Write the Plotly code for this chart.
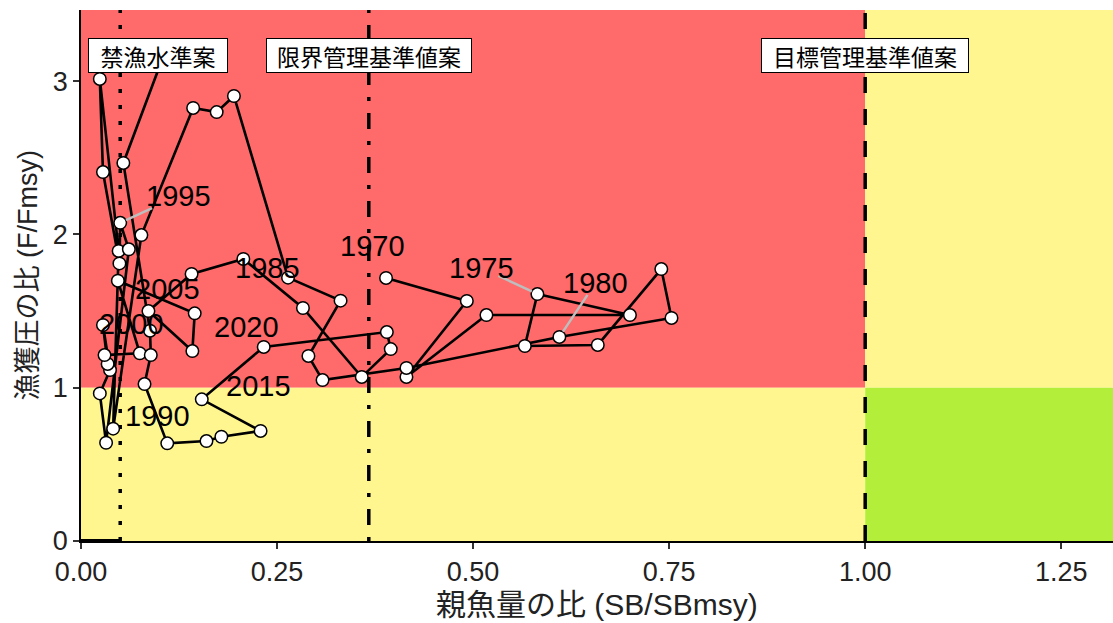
import plotly.graph_objects as go

# ---- data ----
years = list(range(1970, 2025))
sb_ratio = [0.389, 0.492, 0.415, 0.517, 0.700, 0.582, 0.566, 0.659, 0.740, 0.753,
            0.610, 0.415, 0.308, 0.290, 0.331, 0.264, 0.195, 0.173, 0.143, 0.077,
            0.041, 0.048, 0.024, 0.028, 0.049, 0.050, 0.061, 0.032, 0.024, 0.037,
            0.028, 0.034, 0.030, 0.075, 0.047, 0.145, 0.142, 0.086, 0.141, 0.207,
            0.283, 0.358, 0.395, 0.390, 0.233, 0.154, 0.229, 0.179, 0.160, 0.110,
            0.081, 0.089, 0.088, 0.054, 0.107]
f_ratio = [1.716, 1.566, 1.070, 1.474, 1.474, 1.611, 1.272, 1.279, 1.774, 1.455,
           1.331, 1.129, 1.050, 1.207, 1.568, 1.718, 2.903, 2.798, 2.825, 1.996,
           0.733, 1.892, 3.014, 2.407, 1.811, 2.076, 1.903, 0.641, 0.963, 1.115,
           1.409, 1.155, 1.213, 1.224, 1.698, 1.485, 1.239, 1.500, 1.742, 1.840,
           1.520, 1.070, 1.252, 1.363, 1.266, 0.924, 0.718, 0.680, 0.652, 0.637,
           1.024, 1.213, 1.372, 2.466, 3.190]

label_years = [1970, 1975, 1980, 1985, 1990, 1995, 2000, 2005, 2015, 2020]
label_x = [0.372, 0.511, 0.656, 0.238, 0.097, 0.124, 0.064, 0.110, 0.226, 0.211]
label_y = [1.924, 1.781, 1.683, 1.781, 0.815, 2.250, 1.416, 1.644, 1.011, 1.396]
segment_years = [1975, 1980, 1995]
segment_start = [0.30, 0.22, 0.45]

ref_names = ["禁漁水準案", "限界管理基準値案", "目標管理基準値案"]
ref_x = [0.05, 0.367, 1.0]
ref_dash = ["4px,12px", "4px,12px,16px,12px", "16px,16px"]
ref_label_x = [0.098, 0.367, 1.0]
ref_label_w = [132, 198, 200]

X_MAX, Y_MAX = 1.316, 3.464
RED, YELLOW, GREEN = "#FF6A6A", "#FFF68F", "#B3EE3A"
LATIN_CJK = "Liberation Sans, Arial, Noto Sans CJK JP"

fig = go.Figure()

shapes = [
    dict(type="rect", x0=0, x1=1, y0=1, y1=Y_MAX, fillcolor=RED, line_width=0, layer="below"),
    dict(type="rect", x0=0, x1=1, y0=0, y1=1, fillcolor=YELLOW, line_width=0, layer="below"),
    dict(type="rect", x0=1, x1=X_MAX, y0=1, y1=Y_MAX, fillcolor=YELLOW, line_width=0, layer="below"),
    dict(type="rect", x0=1, x1=X_MAX, y0=0, y1=1, fillcolor=GREEN, line_width=0, layer="below"),
]
for xv, d in zip(ref_x, ref_dash):
    shapes.append(dict(type="line", x0=xv, x1=xv, y0=0, y1=Y_MAX,
                       line=dict(color="black", width=3.5, dash=d), layer="below"))
shapes.append(dict(type="line", x0=0, x1=ref_x[0], y0=0, y1=0,
                   line=dict(color="black", width=4)))

for yr, t0 in zip(segment_years, segment_start):
    i = label_years.index(yr)
    j = years.index(yr)
    lx, ly = label_x[i], label_y[i]
    px, py = sb_ratio[j], f_ratio[j]
    t1 = 0.9
    shapes.append(dict(type="line",
                       x0=lx + (px - lx) * t0, y0=ly + (py - ly) * t0,
                       x1=lx + (px - lx) * t1, y1=ly + (py - ly) * t1,
                       line=dict(color="#BEBEBE", width=2.5)))

fig.add_trace(go.Scatter(
    x=sb_ratio, y=f_ratio, mode="lines+markers",
    line=dict(color="black", width=2.6),
    marker=dict(size=12.5, color="white", line=dict(color="black", width=1.5)),
    text=[str(y) for y in years], hoverinfo="text", showlegend=False))

annotations = []
for yr, lx, ly in zip(label_years, label_x, label_y):
    annotations.append(dict(x=lx, y=ly, xref="x", yref="y", text=str(yr), showarrow=False,
                            font=dict(family="Liberation Sans, Arial", size=29, color="black")))
for name, lx, w in zip(ref_names, ref_label_x, ref_label_w):
    annotations.append(dict(x=lx, y=3.167, xref="x", yref="y", text=name, showarrow=False,
                            width=w, height=27, align="center", valign="middle",
                            font=dict(family="Noto Sans CJK JP", size=23, color="black"),
                            bgcolor="white", bordercolor="black", borderwidth=1, borderpad=3))
# axis titles
annotations.append(dict(x=0.5, y=-0.119, xref="paper", yref="paper", text="親魚量の比 (SB/SBmsy)",
                        showarrow=False, xanchor="center", yanchor="middle",
                        font=dict(family=LATIN_CJK, size=30, color="#222")))
annotations.append(dict(x=-0.0514, y=0.5, xref="paper", yref="paper", text="漁獲圧の比 (F/Fmsy)",
                        showarrow=False, xanchor="center", yanchor="middle", textangle=-90,
                        font=dict(family=LATIN_CJK, size=27, color="#222")))

fig.update_layout(
    width=1113, height=623,
    margin=dict(l=81, r=0, t=10, b=82),
    paper_bgcolor="white", plot_bgcolor="white",
    shapes=shapes, annotations=annotations, showlegend=False,
    xaxis=dict(range=[0, X_MAX], tickvals=[0, 0.25, 0.5, 0.75, 1.0, 1.25],
               ticktext=["0.00", "0.25", "0.50", "0.75", "1.00", "1.25"],
               showgrid=False, zeroline=False, showline=True, linecolor="black", linewidth=1.5,
               ticks="outside", ticklen=6, tickwidth=2, tickcolor="#333",
               tickfont=dict(family="Liberation Sans, Arial", size=27, color="#222")),
    yaxis=dict(range=[0, Y_MAX], tickvals=[0, 1, 2, 3], ticktext=["0", "1", "2", "3"],
               showgrid=False, zeroline=False, showline=True, linecolor="black", linewidth=1.5,
               ticks="outside", ticklen=6, tickwidth=2, tickcolor="#333",
               tickfont=dict(family="Liberation Sans, Arial", size=27, color="#222")),
)

fig.write_html("out.html")
